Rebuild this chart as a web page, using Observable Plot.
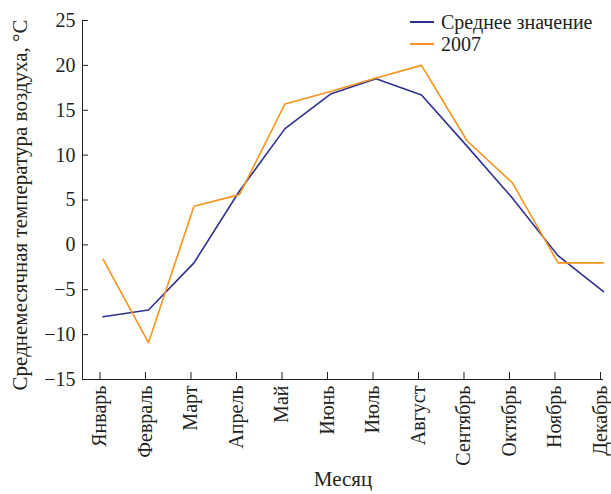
<!DOCTYPE html>
<html>
<head>
<meta charset="utf-8">
<script src="https://cdn.jsdelivr.net/npm/d3@7"></script>
<script src="https://cdn.jsdelivr.net/npm/@observablehq/plot@0.6"></script>
<style>
  html, body { margin: 0; padding: 0; background: #fff; }
  #wrap { position: relative; width: 611px; height: 494px; font-family: "Liberation Serif", "DejaVu Serif", serif; color: #231f20; }
  #legend { position: absolute; left: 410px; top: 11px; font-size: 20px; line-height: 22px; }
  #legend .row { display: flex; align-items: center; white-space: nowrap; height: 22px; }
  #legend .sw { display: inline-block; width: 24px; height: 0; border-top: 2px solid; margin-right: 7px; }
</style>
</head>
<body>
<div id="wrap"><div id="legend"></div></div>
<script>
const months = ["Январь", "Февраль", "Март", "Апрель", "Май", "Июнь", "Июль", "Август", "Сентябрь", "Октябрь", "Ноябрь", "Декабрь"];
const meanTemp = [-8.0, -7.25, -2.0, 6.0, 12.95, 16.8, 18.5, 16.7, 11.0, 5.2, -1.2, -5.2];
const temp2007 = [-1.6, -10.9, 4.3, 5.6, 15.7, 17.1, 18.6, 20.0, 11.6, 6.9, -2.0, -2.0];
const seriesNames = ["Среднее значение", "2007"];
const seriesColors = ["#2e3192", "#f7941d"];
const yTicks = [-15, -10, -5, 0, 5, 10, 15, 20, 25];
const yTitle = "Среднемесячная температура воздуха, °C";
const xTitle = "Месяц";

const xDomain = [-0.45, 11];
const yDomain = [-15, 25];

const data = months.flatMap((m, i) => [
  {i, v: meanTemp[i], s: seriesNames[0]},
  {i, v: temp2007[i], s: seriesNames[1]}
]);

const fmt = d => d < 0 ? "\u2212" + (-d) : String(d);

const chart = Plot.plot({
  width: 611,
  height: 494,
  marginLeft: 82,
  marginRight: 8,
  marginTop: 20,
  marginBottom: 115,
  style: {fontFamily: "Liberation Serif, serif", fontSize: "20px", color: "#231f20", background: "transparent", overflow: "visible"},
  x: {type: "linear", domain: xDomain},
  y: {domain: yDomain},
  color: {domain: seriesNames, range: seriesColors},
  marks: [
    Plot.ruleX([xDomain[0]], {stroke: "#231f20", strokeWidth: 1}),
    Plot.ruleY([yDomain[0]], {stroke: "#231f20", strokeWidth: 1}),
    Plot.axisY({ticks: yTicks, tickSize: -6, tickPadding: 13, tickFormat: fmt, label: null, fontSize: 20}),
    Plot.axisX({ticks: d3.range(months.length), tickSize: -7, tickPadding: 13, tickRotate: -90, tickFormat: i => months[i], label: null, fontSize: 20, dx: -3}),
    Plot.line(data, {x: "i", y: "v", z: "s", stroke: "s", strokeWidth: 1.6}),
    Plot.text([yTitle], {frameAnchor: "left", textAnchor: "middle", rotate: -90, dx: -62, dy: 5, fontSize: 21, fill: "#231f20"}),
    Plot.text([xTitle], {frameAnchor: "bottom", dy: 106, fontSize: 21, fill: "#231f20"})
  ]
});

const wrap = document.getElementById("wrap");
wrap.insertBefore(chart, wrap.firstChild);

const legend = document.getElementById("legend");
seriesNames.forEach((n, k) => {
  const row = document.createElement("div");
  row.className = "row";
  const sw = document.createElement("span");
  sw.className = "sw";
  sw.style.borderColor = seriesColors[k];
  const t = document.createElement("span");
  t.textContent = n;
  row.appendChild(sw);
  row.appendChild(t);
  legend.appendChild(row);
});
</script>
</body>
</html>
